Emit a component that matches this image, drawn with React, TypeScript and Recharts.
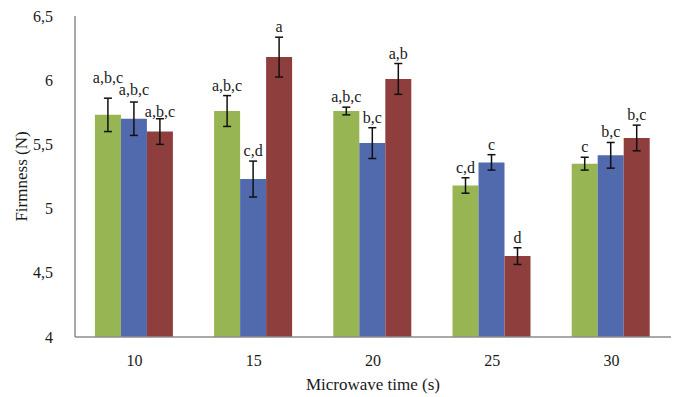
import { BarChart, Bar, XAxis, YAxis, ErrorBar, LabelList, Label } from 'recharts';

const categories = ['10', '15', '20', '25', '30'];

const greenValues = [5.73, 5.76, 5.76, 5.18, 5.35];
const greenErrors = [0.13, 0.12, 0.03, 0.06, 0.05];
const greenLetters = ['a,b,c', 'a,b,c', 'a,b,c', 'c,d', 'c'];

const blueValues = [5.7, 5.23, 5.51, 5.36, 5.415];
const blueErrors = [0.13, 0.14, 0.12, 0.06, 0.1];
const blueLetters = ['a,b,c', 'c,d', 'b,c', 'c', 'b,c'];

const redValues = [5.6, 6.18, 6.01, 4.63, 5.55];
const redErrors = [0.1, 0.155, 0.12, 0.065, 0.1];
const redLetters = ['a,b,c', 'a', 'a,b', 'd', 'b,c'];

const yTicks = [4, 4.5, 5, 5.5, 6, 6.5];

const FONT =
  "'Liberation Serif', 'Times New Roman', Times, 'DejaVu Serif', 'Noto Serif', FreeSerif, Tinos, serif";
const AXIS_MIN = 4;

// the first group's letters were nudged by hand in the original so they don't collide
const labelLift: Record<string, number> = { 'green-0': 15, 'blue-0': 7, 'red-0': 2 };

const data = categories.map((name, i) => ({
  name,
  green: greenValues[i],
  greenErr: greenErrors[i],
  greenTag: greenLetters[i],
  blue: blueValues[i],
  blueErr: blueErrors[i],
  blueTag: blueLetters[i],
  red: redValues[i],
  redErr: redErrors[i],
  redTag: redLetters[i],
}));

// puts the significance letters just above the error bar cap
const makeLetterLabel = (series: string, values: number[], errors: number[]) => (props: any) => {
  const { x, y, width, height, index, value } = props;
  const v = values[index];
  const pxPerUnit = Number(height) / (v - AXIS_MIN);
  const top = Number(y) - errors[index] * pxPerUnit;
  const lift = labelLift[`${series}-${index}`] ?? 5;
  return (
    <text
      x={Number(x) + Number(width) / 2}
      y={top - lift}
      textAnchor="middle"
      style={{ fontFamily: FONT, fontSize: 16, fill: '#1a1a1a' }}
    >
      {value}
    </text>
  );
};

const formatTick = (v: number) => String(v).replace('.', ',');

export default function App() {
  return (
    <div style={{ width: 676, height: 397, background: '#fff', fontFamily: FONT }}>
      <style>{'body{margin:0}'}</style>
      <BarChart
        width={676}
        height={397}
        data={data}
        margin={{ top: 16, right: 5, bottom: 30, left: 0 }}
        barCategoryGap="16.7%"
        barGap={0}
        style={{ fontFamily: FONT }}
      >
        <XAxis
          dataKey="name"
          axisLine={{ stroke: '#8c8c8c', strokeWidth: 1.5 }}
          tickLine={false}
          tickMargin={12}
          height={30}
          tick={{ fill: '#1a1a1a', fontSize: 16, style: { fontFamily: FONT } }}
        >
          <Label
            content={(p: any) => {
              const vb = p.viewBox;
              return (
                <text
                  x={vb.x + vb.width / 2}
                  y={vb.y + 53}
                  textAnchor="middle"
                  style={{ fontFamily: FONT, fontSize: 17, fill: '#1a1a1a' }}
                >
                  Microwave time (s)
                </text>
              );
            }}
          />
        </XAxis>
        <YAxis
          domain={[4, 6.5]}
          ticks={yTicks}
          allowDataOverflow
          width={75}
          axisLine={{ stroke: '#8c8c8c', strokeWidth: 1.5 }}
          tickLine={false}
          tickMargin={16}
          tickFormatter={formatTick}
          tick={{ fill: '#1a1a1a', fontSize: 16, style: { fontFamily: FONT } }}
        >
          <Label
            content={(p: any) => {
              const vb = p.viewBox;
              const cx = vb.x + 21;
              const cy = vb.y + vb.height / 2;
              return (
                <text
                  x={cx}
                  y={cy}
                  textAnchor="middle"
                  dominantBaseline="central"
                  transform={`rotate(-90 ${cx} ${cy})`}
                  style={{ fontFamily: FONT, fontSize: 17, fill: '#1a1a1a' }}
                >
                  Firmness (N)
                </text>
              );
            }}
          />
        </YAxis>
        <Bar dataKey="green" fill="#97b552" isAnimationActive={false}>
          <ErrorBar dataKey="greenErr" width={4} stroke="#111" strokeWidth={1.5} />
          <LabelList dataKey="greenTag" content={makeLetterLabel('green', greenValues, greenErrors)} />
        </Bar>
        <Bar dataKey="blue" fill="#5169ad" isAnimationActive={false}>
          <ErrorBar dataKey="blueErr" width={4} stroke="#111" strokeWidth={1.5} />
          <LabelList dataKey="blueTag" content={makeLetterLabel('blue', blueValues, blueErrors)} />
        </Bar>
        <Bar dataKey="red" fill="#8f3e3e" isAnimationActive={false}>
          <ErrorBar dataKey="redErr" width={4} stroke="#111" strokeWidth={1.5} />
          <LabelList dataKey="redTag" content={makeLetterLabel('red', redValues, redErrors)} />
        </Bar>
      </BarChart>
    </div>
  );
}
